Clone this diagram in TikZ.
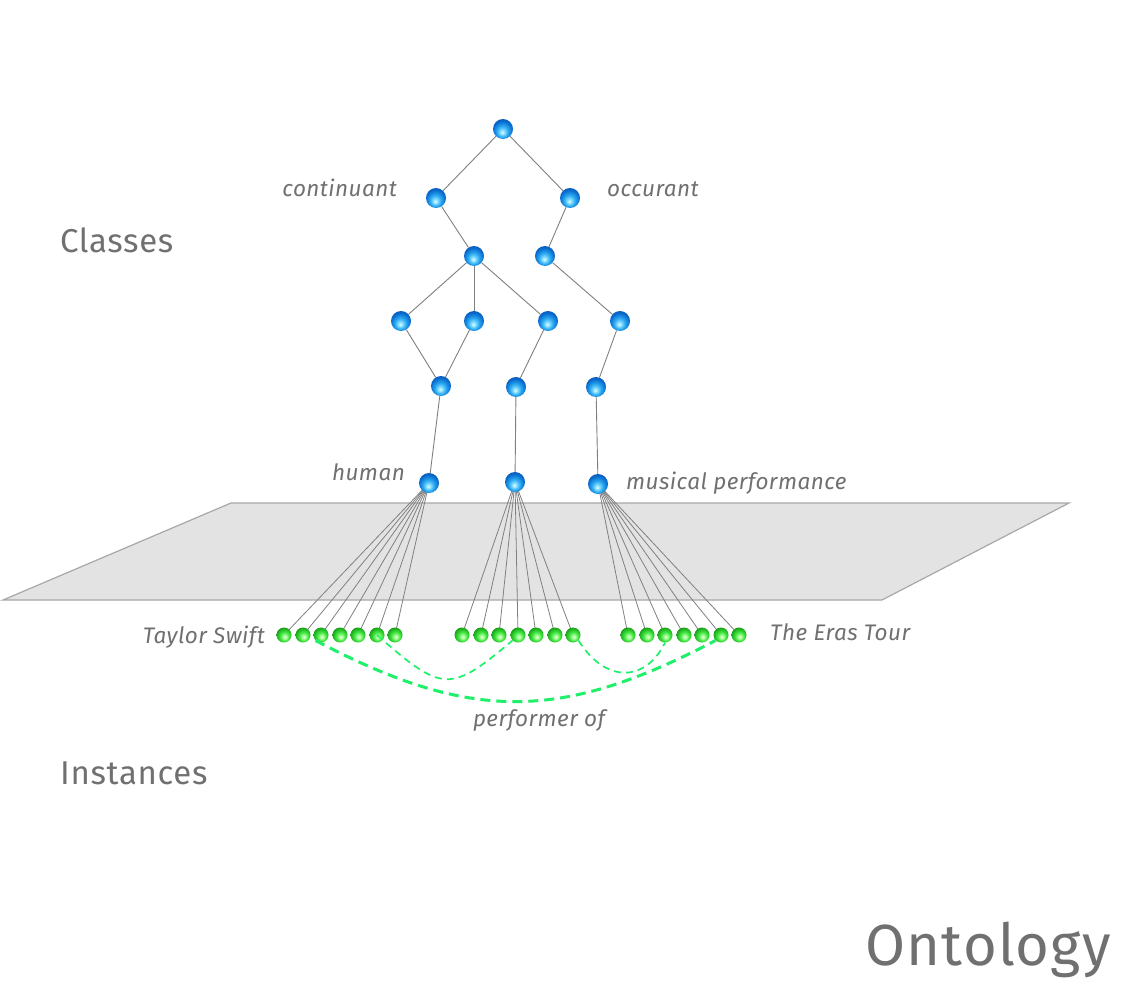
\documentclass[tikz,border=0pt]{standalone}
\usepackage{fontspec}
\setmainfont{Fira Sans}[LetterSpace=2]
\definecolor{txt}{HTML}{707070}
\definecolor{edge}{HTML}{808080}
\definecolor{planefill}{HTML}{E3E3E3}
\definecolor{planedraw}{HTML}{A8A8A8}
\definecolor{dashgreen}{HTML}{1EF06A}
\definecolor{bA}{HTML}{E6FBFF}
\definecolor{bB}{HTML}{7FDCFF}
\definecolor{bC}{HTML}{2AA8F0}
\definecolor{bD}{HTML}{0A6ED0}
\definecolor{bE}{HTML}{0852B0}
\definecolor{gA}{HTML}{EAFFE6}
\definecolor{gB}{HTML}{A6FF96}
\definecolor{gC}{HTML}{46E846}
\definecolor{gD}{HTML}{22B822}
\definecolor{gE}{HTML}{138A13}
\pgfdeclareradialshading{bball}{\pgfpoint{-2bp}{-9bp}}{color(0bp)=(bA); color(6bp)=(bB); color(14bp)=(bC); color(24bp)=(bD); color(32bp)=(bE); color(50bp)=(bE)}
\pgfdeclareradialshading{gball}{\pgfpoint{3bp}{-7bp}}{color(0bp)=(gA); color(6bp)=(gB); color(14bp)=(gC); color(24bp)=(gD); color(32bp)=(gE); color(50bp)=(gE)}
\pgfdeclarelayer{plane}
\pgfdeclarelayer{bg}
\pgfsetlayers{plane,bg,main}
\tikzset{
  bn/.style={circle, inner sep=0pt, minimum size=20pt, shade, shading=bball},
  gn/.style={circle, inner sep=0pt, minimum size=15pt, shade, shading=gball},
  cl/.style={draw=edge, line width=0.9pt},
  il/.style={draw=edge, line width=0.8pt},
  lbl/.style={text=txt, font=\fontsize{22.5}{26}\selectfont\itshape, inner sep=0pt},
  big/.style={text=txt, font=\fontsize{33}{38}\selectfont, inner sep=0pt, anchor=base west},
  thickdash/.style={draw=dashgreen, line width=3pt, dash pattern=on 10pt off 6pt},
  thindash/.style={draw=dashgreen, line width=1.7pt, dash pattern=on 7pt off 5pt},
}
\begin{document}
\begin{tikzpicture}[x=1pt,y=-1pt]
\useasboundingbox (0,0) rectangle (1126,998);
% plane
\begin{pgfonlayer}{plane}
\fill[white] (0,0) rectangle (1126,998);
\path[fill=planefill, draw=planedraw, line width=1.2pt] (231,503) -- (1069,503) -- (882,600) -- (3,600) -- cycle;
\end{pgfonlayer}
% class nodes
\node[bn] (root) at (503,129) {};
\node[bn] (cont) at (436,198) {};
\node[bn] (occ) at (570,198) {};
\node[bn] (k1) at (474,256) {};
\node[bn] (o1) at (545,256) {};
\node[bn] (k11) at (401,321) {};
\node[bn] (k12) at (474,321) {};
\node[bn] (k13) at (548,321) {};
\node[bn] (o11) at (620,321) {};
\node[bn] (k111) at (441,386) {};
\node[bn] (k131) at (516,387) {};
\node[bn] (o111) at (596,387) {};
\node[bn] (human) at (429,483) {};
\node[bn] (mid) at (515,482) {};
\node[bn] (mus) at (598,484) {};
% instance nodes
\foreach \x [count=\i] in {284,303,321,340,358,377,395} {\node[gn] (ia\i) at (\x,635) {};}
\foreach \x [count=\i] in {462,481,499,518,536,555,573} {\node[gn] (ib\i) at (\x,635) {};}
\foreach \x [count=\i] in {628,647,665,684,702,721,739} {\node[gn] (ic\i) at (\x,635) {};}
% edges
\begin{pgfonlayer}{bg}
\draw[cl] (root) -- (cont);
\draw[cl] (root) -- (occ);
\draw[cl] (cont) -- (k1);
\draw[cl] (occ) -- (o1);
\draw[cl] (k1) -- (k11);
\draw[cl] (k1) -- (k12);
\draw[cl] (k1) -- (k13);
\draw[cl] (o1) -- (o11);
\draw[cl] (k11) -- (k111);
\draw[cl] (k12) -- (k111);
\draw[cl] (k13) -- (k131);
\draw[cl] (o11) -- (o111);
\draw[cl] (k111) -- (human);
\draw[cl] (k131) -- (mid);
\draw[cl] (o111) -- (mus);
\foreach \i in {1,...,7} {
  \draw[il] (human.center) -- (ia\i.center);
  \draw[il] (mid.center) -- (ib\i.center);
  \draw[il] (mus.center) -- (ic\i.center);
}
\end{pgfonlayer}
% relation arcs
\draw[thickdash] (ia3.south west) .. controls (470,722) and (560,722) .. (ic6.south west);
\draw[thindash] (ia6.center) .. controls (443,693) and (450,693) .. (ib4.south west);
\draw[thindash] (ib7.south east) .. controls (605,683) and (645,683) .. (ic3.south);
% labels
\node[lbl, anchor=base east] (lcont) at (397,196) {continuant};
\node[lbl, anchor=base west] (locc) at (607,196) {occurant};
\node[lbl, anchor=base east] (lhum) at (405,480) {human};
\node[lbl, anchor=base west] (lmus) at (626,489) {musical performance};
\node[lbl, anchor=base east] (lts) at (265,643) {Taylor Swift};
\node[lbl, anchor=base west] (lera) at (770,640) {The Eras Tour};
\node[lbl, anchor=base] (lperf) at (539,726) {performer of};
\node[big] (lcls) at (60,252) {Classes};
\node[big] (linst) at (60,784) {Instances};
\node[text=txt, font=\fontsize{58}{68}\selectfont, inner sep=0pt, anchor=base east] (lonto) at (1111,965) {Ontology};
\end{tikzpicture}
\end{document}
